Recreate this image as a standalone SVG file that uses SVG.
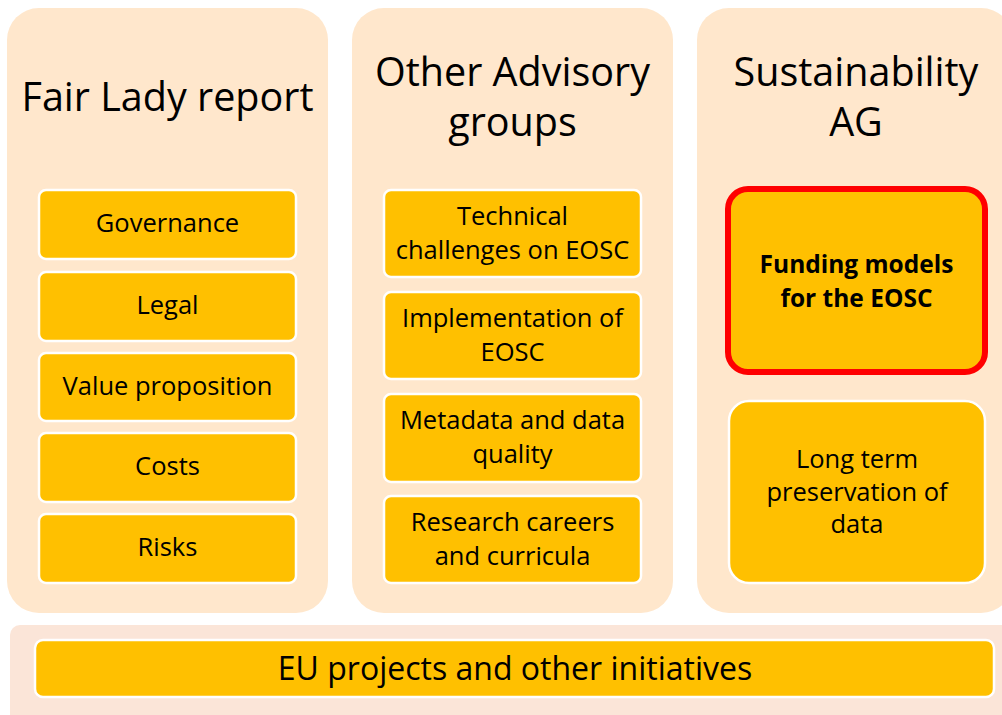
<svg xmlns="http://www.w3.org/2000/svg" width="1002" height="715" viewBox="0 0 1002 715">
<style>
  .panel { fill: #FFE7CC; }
  .base { fill: #FBE5D8; }
  .box { fill: #FFC000; stroke: #FFFFFF; stroke-width: 2.5; }
  .hl { fill: #FFC000; stroke: #FF0000; stroke-width: 6; }
  text { font-family: "Open Sans", "Noto Sans", sans-serif; fill: #000000; text-anchor: middle; }
  .title { font-size: 39.5px; }
  .lbl { font-size: 25.5px; }
  .bold { font-size: 24.5px; font-weight: bold; }
  .big { font-size: 32px; }
</style>
<rect x="0" y="0" width="1002" height="715" fill="#FFFFFF"/>

<g id="panel-fair-lady">
  <rect class="panel" x="7" y="8" width="321" height="605" rx="32" ry="32"/>
  <text class="title" x="167.5" y="111">Fair Lady report</text>
</g>
<g id="node-governance">
  <rect class="box" x="39" y="190" width="257" height="69" rx="7"/>
  <text class="lbl" x="167.5" y="232">Governance</text>
</g>
<g id="node-legal">
  <rect class="box" x="39" y="272" width="257" height="69" rx="7"/>
  <text class="lbl" x="167.5" y="314">Legal</text>
</g>
<g id="node-value">
  <rect class="box" x="39" y="353" width="257" height="68" rx="7"/>
  <text class="lbl" x="167.5" y="395">Value proposition</text>
</g>
<g id="node-costs">
  <rect class="box" x="39" y="433" width="257" height="69" rx="7"/>
  <text class="lbl" x="167.5" y="475">Costs</text>
</g>
<g id="node-risks">
  <rect class="box" x="39" y="514" width="257" height="69" rx="7"/>
  <text class="lbl" x="167.5" y="556">Risks</text>
</g>

<g id="panel-advisory">
  <rect class="panel" x="352" y="8" width="321" height="605" rx="32" ry="32"/>
  <text class="title" x="512.5" y="85.5">Other Advisory</text>
  <text class="title" x="512.5" y="135.5">groups</text>
</g>
<g id="node-technical">
  <rect class="box" x="384" y="190" width="257" height="87" rx="7"/>
  <text class="lbl" x="512.5" y="225">Technical</text>
  <text class="lbl" x="512.5" y="259">challenges on EOSC</text>
</g>
<g id="node-implementation">
  <rect class="box" x="384" y="292" width="257" height="87" rx="7"/>
  <text class="lbl" x="512.5" y="327">Implementation of</text>
  <text class="lbl" x="512.5" y="361">EOSC</text>
</g>
<g id="node-metadata">
  <rect class="box" x="384" y="394" width="257" height="88" rx="7"/>
  <text class="lbl" x="512.5" y="429">Metadata and data</text>
  <text class="lbl" x="512.5" y="463">quality</text>
</g>
<g id="node-research">
  <rect class="box" x="384" y="496" width="257" height="87" rx="7"/>
  <text class="lbl" x="512.5" y="531">Research careers</text>
  <text class="lbl" x="512.5" y="565">and curricula</text>
</g>

<g id="panel-sustainability">
  <rect class="panel" x="697" y="8" width="316" height="605" rx="32" ry="32"/>
  <text class="title" x="856" y="85.5">Sustainability</text>
  <text class="title" x="856" y="135.5">AG</text>
</g>
<g id="node-funding">
  <rect class="hl" x="728" y="189" width="257" height="183" rx="20"/>
  <text class="bold" x="856.5" y="273">Funding models</text>
  <text class="bold" x="856.5" y="307">for the EOSC</text>
</g>
<g id="node-preservation">
  <rect class="box" x="729" y="401" width="256" height="182" rx="20"/>
  <text class="lbl" x="857" y="468">Long term</text>
  <text class="lbl" x="857" y="501">preservation of</text>
  <text class="lbl" x="857" y="533">data</text>
</g>

<g id="panel-eu">
  <rect class="base" x="10" y="625" width="1010" height="100" rx="10"/>
</g>
<g id="node-eu">
  <rect class="box" x="35" y="640" width="959" height="57" rx="8"/>
  <text class="big" x="515" y="680">EU projects and other initiatives</text>
</g>

<g id="connectors"></g>
</svg>
